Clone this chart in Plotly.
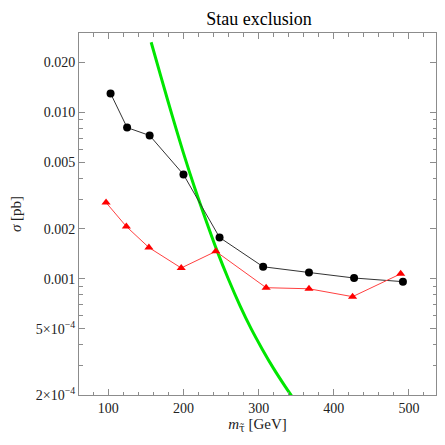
import plotly.graph_objects as go

# Black circles: expected limit
black_mass = [103, 125, 155, 200, 248, 306, 367, 427, 492]
black_sigma = [0.0130, 0.0081, 0.00726, 0.00423, 0.00177, 0.00118, 0.00109, 0.00101, 0.00096]

# Red triangles: observed limit
red_mass = [97, 124, 154, 197, 243, 310, 367, 425, 489]
red_sigma = [0.00287, 0.00206, 0.00154, 0.00116, 0.00146, 0.000883, 0.00087, 0.00078, 0.00107]

# Green: stau pair production cross section
green_mass = [157, 170, 185, 200, 215, 230, 245, 260, 275, 290, 305, 320, 335, 344, 350]
green_sigma = [0.0264, 0.0164, 0.00955, 0.00569, 0.00351, 0.00224, 0.00146, 0.000989,
               0.000692, 0.000501, 0.000376, 0.000288, 0.000226, 0.000197, 0.000180]

y_tickvals = [0.0002, 0.0005, 0.001, 0.002, 0.005, 0.01, 0.02]
y_ticktext = ["2×10<sup>−4</sup>", "5×10<sup>−4</sup>", "0.001", "0.002", "0.005", "0.010", "0.020"]
y_minor = [0.0003, 0.0004, 0.0006, 0.0007, 0.0008, 0.0009,
           0.003, 0.004, 0.006, 0.007, 0.008, 0.009, 0.03]
x_tickvals = [100, 200, 300, 400, 500]

FONT = "Liberation Serif, Times New Roman, serif"
FRAME = "#8c8c8c"

fig = go.Figure()

fig.add_trace(go.Scatter(
    x=green_mass, y=green_sigma, mode="lines", line_shape="spline",
    line=dict(color="#00e600", width=3), showlegend=False,
))
fig.add_trace(go.Scatter(
    x=black_mass, y=black_sigma, mode="lines+markers",
    line=dict(color="#333333", width=1),
    marker=dict(symbol="circle", size=8, color="black"), showlegend=False,
))
fig.add_trace(go.Scatter(
    x=red_mass, y=red_sigma, mode="lines+markers",
    line=dict(color="#ff4040", width=1),
    marker=dict(symbol="triangle-up", size=8, color="#ff0000"), showlegend=False,
))

# page body adds an 8px margin, so the figure is sized to sit inside the window
fig.update_layout(
    width=429, height=429,
    margin=dict(l=71, r=1, t=25, b=42),
    plot_bgcolor="white", paper_bgcolor="white",
    font=dict(family=FONT, size=14, color="#222222"),
    title=dict(text="Stau exclusion", x=0.585, xanchor="center", y=0.974, yanchor="middle",
               font=dict(family=FONT, size=18, color="black")),
    xaxis=dict(
        range=[61, 536], showgrid=False, zeroline=False, automargin=False,
        showline=True, linecolor=FRAME, linewidth=1, mirror="allticks",
        tickmode="array", tickvals=x_tickvals, ticks="inside", ticklen=6, tickcolor=FRAME,
        minor=dict(dtick=20, tick0=0, ticks="inside", ticklen=3.5, tickcolor=FRAME, showgrid=False),
        title=dict(text="<i>m</i><sub><span style='font-family:DejaVu Serif'>τ̃</span></sub> [GeV]",
                   standoff=3, font=dict(size=15)),
    ),
    yaxis=dict(
        type="log", range=[-3.699, -1.523], showgrid=False, zeroline=False, automargin=False,
        showline=True, linecolor=FRAME, linewidth=1, mirror="allticks",
        tickmode="array", tickvals=y_tickvals, ticktext=y_ticktext,
        ticks="inside", ticklen=6, tickcolor=FRAME,
        minor=dict(tickmode="array", tickvals=y_minor, ticks="inside", ticklen=3.5,
                   tickcolor=FRAME, showgrid=False),
        title=dict(text="<i>σ</i> [pb]", standoff=10, font=dict(size=15)),
    ),
)

fig.write_html("out.html")
